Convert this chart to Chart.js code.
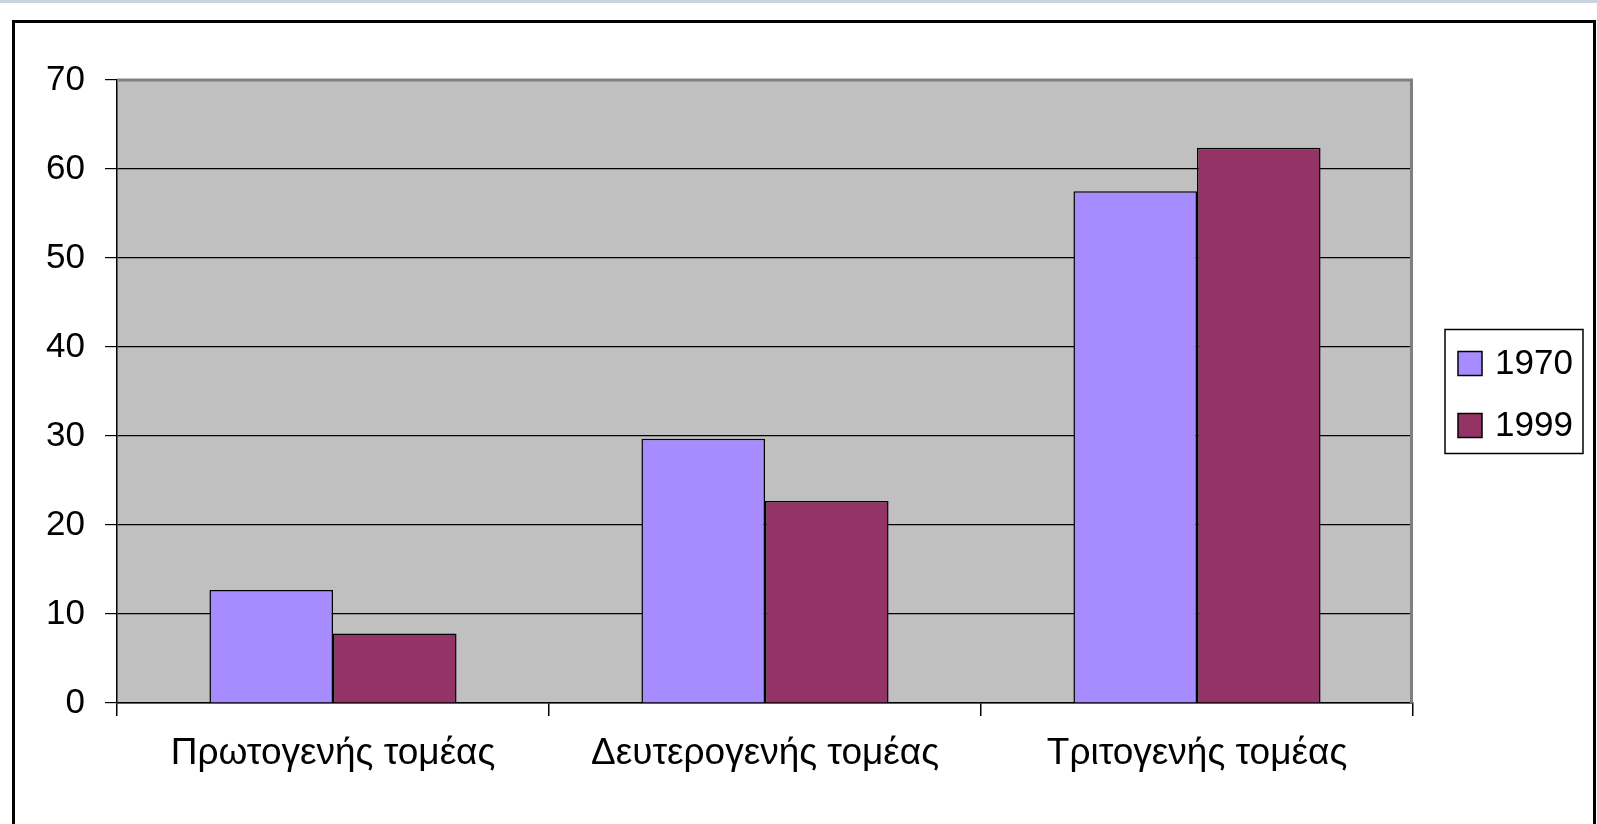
<!DOCTYPE html>
<html>
<head>
<meta charset="utf-8">
<script src="https://cdn.jsdelivr.net/npm/chart.js@4"></script>
<style>
  html, body { margin: 0; padding: 0; background: #fff; overflow: hidden; }
  #strip { position: absolute; left: 0; top: 0; width: 1597px; height: 3px; background: #c9d3dd; }
  #frame { position: absolute; left: 12px; top: 20px; width: 1578px; height: 820px; border: 3px solid #000; }
  #wrap { position: absolute; left: 0; top: 0; width: 1597px; height: 824px; }
</style>
</head>
<body>
<div id="strip"></div>
<div id="frame"></div>
<div id="wrap"><canvas id="chart" width="1597" height="824"></canvas></div>
<script>
const categories = ['Πρωτογενής τομέας', 'Δευτερογενής τομέας', 'Τριτογενής τομέας'];
const values1970 = [12.7, 29.7, 57.5];
const values1999 = [7.8, 22.7, 62.4];
const yTicks = [0, 10, 20, 30, 40, 50, 60, 70];

const FONT = '"Liberation Sans", Arial, sans-serif';

// grey plot background + grey top/right border
const plotArea = {
    id: 'plotArea',
    beforeDraw(chart) {
        const a = chart.chartArea, c = chart.ctx;
        c.save();
        c.fillStyle = '#c0c0c0';
        c.fillRect(a.left, a.top, a.right - a.left, a.bottom - a.top);
        c.restore();
    },
    afterDatasetsDraw(chart) {
        const a = chart.chartArea, c = chart.ctx;
        c.save();
        c.strokeStyle = '#808080';
        c.lineWidth = 3;
        c.beginPath();
        c.moveTo(a.left, a.top);
        c.lineTo(a.right - 1.5, a.top);
        c.lineTo(a.right - 1.5, a.bottom);
        c.stroke();
        c.restore();
    }
};

// legend drawn in a box like the original
const boxLegend = {
    id: 'boxLegend',
    afterDraw(chart) {
        const a = chart.chartArea, c = chart.ctx;
        const mid = (a.top + a.bottom) / 2;
        const x0 = a.right + 32;
        c.save();
        c.strokeStyle = '#000';
        c.lineWidth = 1.5;
        c.strokeRect(x0, mid - 62, 138, 124);
        c.font = '35px ' + FONT;
        c.textBaseline = 'middle';
        chart.data.datasets.forEach((ds, i) => {
            const by = mid - 40 + i * 62;
            c.fillStyle = ds.backgroundColor;
            c.fillRect(x0 + 13, by, 24, 24);
            c.lineWidth = 1.5;
            c.strokeRect(x0 + 13, by, 24, 24);
            c.fillStyle = '#000';
            c.fillText(ds.label, x0 + 50, by + 13);
        });
        c.restore();
    }
};

new Chart(document.getElementById('chart'), {
    type: 'bar',
    data: {
        labels: categories,
        datasets: [
            { label: '1970', data: values1970, backgroundColor: '#a68cfe', borderColor: '#000', borderWidth: 1.5 },
            { label: '1999', data: values1999, backgroundColor: '#933366', borderColor: '#000', borderWidth: 1.5 }
        ]
    },
    options: {
        responsive: false,
        animation: false,
        layout: { padding: { left: 0, top: 80, right: 184, bottom: 0 } },
        datasets: { bar: { categoryPercentage: 0.572, barPercentage: 1 } },
        plugins: { legend: { display: false }, tooltip: { enabled: false } },
        scales: {
            x: {
                afterFit(scale) { scale.height = 121; },
                grid: { drawOnChartArea: false, drawTicks: true, tickLength: 13, color: '#000', lineWidth: 1.5 },
                border: { color: '#000', width: 1.5 },
                ticks: { color: '#000', padding: 16, font: { family: FONT, size: 37 } }
            },
            y: {
                min: 0,
                max: 70,
                afterFit(scale) { scale.width = 117; },
                afterBuildTicks(scale) { scale.ticks = yTicks.map(v => ({ value: v })); },
                grid: {
                    color: ctx => ctx.tick && ctx.tick.value === 70 ? 'rgba(0,0,0,0)' : '#000',
                    lineWidth: 1.2,
                    tickColor: '#000',
                    tickLength: 12
                },
                border: { color: '#000', width: 1.5 },
                ticks: { color: '#000', padding: 20, font: { family: FONT, size: 35 } }
            }
        }
    },
    plugins: [plotArea, boxLegend]
});
</script>
</body>
</html>
